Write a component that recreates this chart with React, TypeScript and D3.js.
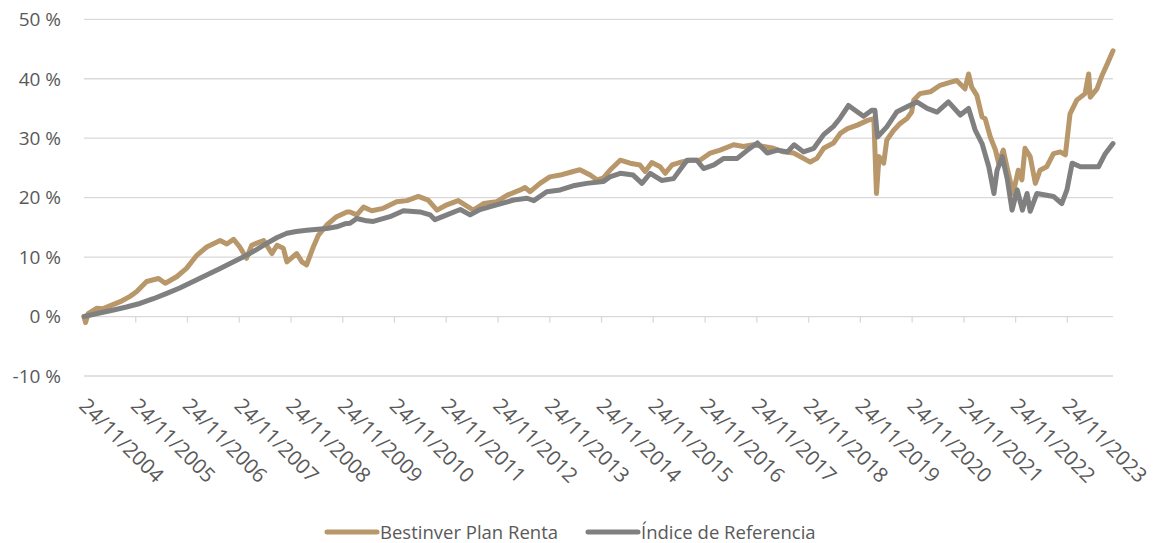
import { useEffect, useRef } from "react"
import * as d3 from "d3"

// Years elapsed since 24/11/2004 and cumulative return (%)
const fundYears = [
  0, 0.03, 0.08, 0.25, 0.36, 0.5, 0.7, 0.89, 1.02, 1.21, 1.44, 1.57, 1.79, 1.98, 2.18, 2.37, 2.63, 2.76, 2.89,
  3.01, 3.14, 3.24, 3.47, 3.63, 3.73, 3.85, 3.92, 4.11, 4.21, 4.3, 4.43, 4.53, 4.69, 4.88, 5.08, 5.14, 5.27, 5.4,
  5.56, 5.78, 6.04, 6.24, 6.46, 6.65, 6.82, 7.01, 7.23, 7.36, 7.52, 7.72, 7.97, 8.17, 8.43, 8.52, 8.62, 8.81, 9.0,
  9.2, 9.45, 9.58, 9.78, 9.91, 10.03, 10.16, 10.36, 10.55, 10.74, 10.84, 10.97, 11.13, 11.23, 11.36, 11.55, 11.71,
  11.9, 12.1, 12.29, 12.55, 12.74, 12.93, 13.13, 13.32, 13.51, 13.71, 13.9, 14.03, 14.16, 14.29, 14.48, 14.61,
  14.75, 14.94, 15.14, 15.26, 15.31, 15.36, 15.45, 15.51, 15.64, 15.77, 15.9, 15.99, 16.03, 16.15, 16.35, 16.54,
  16.73, 16.86, 17.02, 17.09, 17.15, 17.25, 17.35, 17.41, 17.51, 17.61, 17.67, 17.76, 17.83, 17.95, 18.05, 18.12,
  18.18, 18.28, 18.38, 18.47, 18.6, 18.73, 18.86, 18.96, 19.05, 19.18, 19.34, 19.41, 19.44, 19.57, 19.67, 19.77,
  19.88,
]
const fundValues = [
  0, -1.0, 0.5, 1.4, 1.3, 1.8, 2.5, 3.4, 4.2, 5.9, 6.4, 5.6, 6.7, 8.1, 10.3, 11.7, 12.8, 12.2, 13.0,
  11.7, 9.8, 12.0, 12.8, 10.6, 12.0, 11.5, 9.2, 10.6, 9.2, 8.7, 11.7, 13.7, 15.4, 16.8, 17.6, 17.6, 17.1, 18.4,
  17.8, 18.2, 19.3, 19.5, 20.2, 19.6, 17.9, 18.8, 19.5, 18.8, 17.9, 19.0, 19.3, 20.4, 21.3, 21.7, 21.0, 22.4, 23.5,
  23.8, 24.4, 24.7, 23.8, 23.0, 23.3, 24.6, 26.3, 25.8, 25.5, 24.4, 25.9, 25.2, 24.1, 25.5, 26.0, 26.3,
  26.3, 27.5, 28.0, 28.9, 28.6, 28.9, 28.6, 28.3, 27.7, 27.5, 26.6, 26.0, 26.6, 28.3, 29.2, 30.8,
  31.6, 32.2, 33.0, 33.3, 20.7, 26.9, 25.8, 29.7, 31.3, 32.5, 33.3, 34.4, 36.4, 37.5, 37.8, 38.9,
  39.4, 39.7, 38.3, 40.8, 38.6, 37.2, 33.6, 33.3, 30.2, 28.0, 25.8, 28.0, 25.2, 20.7, 24.6, 23.0,
  28.3, 26.9, 22.4, 24.6, 25.2, 27.4, 27.7, 27.2, 34.1, 36.4, 37.5, 40.8, 36.9, 38.3, 40.6, 42.5,
  44.7,
]

const indexYears = [
  0, 0.3, 0.57, 0.82, 1.08, 1.34, 1.6, 1.85, 2.11, 2.37, 2.63, 2.89, 3.14, 3.34, 3.53, 3.73, 3.92, 4.1, 4.3, 4.69,
  4.88, 5.04, 5.14, 5.27, 5.46, 5.59, 5.91, 6.17, 6.49, 6.69, 6.78, 7.01, 7.27, 7.46, 7.65, 7.97, 8.3, 8.56, 8.69,
  8.94, 9.2, 9.45, 9.71, 10.03, 10.16, 10.36, 10.61, 10.78, 10.94, 11.16, 11.39, 11.65, 11.84, 11.97, 12.17,
  12.36, 12.62, 12.82, 13.01, 13.2, 13.4, 13.59, 13.72, 13.9, 14.1, 14.29, 14.48, 14.61, 14.77, 14.93, 15.06,
  15.22, 15.28, 15.33, 15.51, 15.7, 15.9, 16.09, 16.29, 16.48, 16.7, 16.93, 17.09, 17.22, 17.35, 17.48, 17.58,
  17.64, 17.74, 17.84, 17.93, 18.03, 18.13, 18.22, 18.28, 18.41, 18.6, 18.73, 18.89, 18.99, 19.09, 19.25,
  19.44, 19.6, 19.73, 19.88,
]
const indexValues = [
  0, 0.6, 1.1, 1.6, 2.2, 3.0, 3.9, 4.8, 5.9, 7.0, 8.1, 9.2, 10.3, 11.3, 12.3, 13.3, 14.0, 14.3, 14.5, 14.8,
  15.1, 15.6, 15.7, 16.5, 16.1, 16.0, 16.8, 17.8, 17.6, 17.1, 16.3, 17.1, 18.0, 17.1, 18.0, 18.8, 19.6, 19.9, 19.5,
  21.0, 21.3, 22.0, 22.4, 22.7, 23.5, 24.1, 23.8, 22.4, 24.1, 22.9, 23.2, 26.3, 26.3, 24.9, 25.5,
  26.6, 26.6, 28.0, 29.2, 27.5, 28.0, 27.7, 28.9, 27.7, 28.3, 30.6, 32.0, 33.4, 35.5, 34.5, 33.7,
  34.7, 34.7, 30.2, 31.9, 34.4, 35.3, 36.1, 35.0, 34.4, 36.1, 33.9, 35.0, 31.3, 29.1, 25.2, 20.7,
  24.6, 26.9, 23.0, 17.9, 21.3, 17.9, 20.7, 17.7, 20.7, 20.4, 20.2, 19.0, 21.3, 25.8, 25.2,
  25.2, 25.2, 27.4, 29.1,
]

const tickLabels = [
  "24/11/2004", "24/11/2005", "24/11/2006", "24/11/2007", "24/11/2008", "24/11/2009", "24/11/2010",
  "24/11/2011", "24/11/2012", "24/11/2013", "24/11/2014", "24/11/2015", "24/11/2016", "24/11/2017",
  "24/11/2018", "24/11/2019", "24/11/2020", "24/11/2021", "24/11/2022", "24/11/2023",
]
const yTicks = [-10, 0, 10, 20, 30, 40, 50]

const seriesNames = ["Bestinver Plan Renta", "Índice de Referencia"]
const seriesColors = ["#b8976a", "#808080"]

const parseLabel = d3.timeParse("%d/%m/%Y")
const startDate = parseLabel("24/11/2004") as Date
const toDate = (yrs: number) => new Date(startDate.getTime() + yrs * 365.25 * 864e5)

export default function App() {
  const svgRef = useRef<SVGSVGElement>(null)

  useEffect(() => {
    if (!svgRef.current) return
    const svg = d3.select(svgRef.current)
    svg.selectAll("*").remove()

    const width = 1158
    const height = 543
    svg.attr("width", width).attr("height", height)

    const font = "'Open Sans', sans-serif"
    const textColor = "#595959"

    const x = d3
      .scaleTime()
      .domain([startDate, toDate(fundYears[fundYears.length - 1])])
      .range([84, 1113])
    const y = d3.scaleLinear().domain([-10, 50]).range([376, 19.3])

    // gridlines
    svg
      .append("g")
      .selectAll("line")
      .data(yTicks)
      .enter()
      .append("line")
      .attr("x1", 84)
      .attr("x2", 1113)
      .attr("y1", (d) => y(d))
      .attr("y2", (d) => y(d))
      .attr("stroke", "#d9d9d9")
      .attr("stroke-width", 1.3)

    // y labels
    svg
      .append("g")
      .selectAll("text")
      .data(yTicks)
      .enter()
      .append("text")
      .attr("x", 61)
      .attr("y", (d) => y(d))
      .attr("dy", "0.36em")
      .attr("text-anchor", "end")
      .style("font-family", font)
      .style("font-size", "19px")
      .style("fill", textColor)
      .text((d) => `${d} %`)

    // x ticks on the 0 % line + rotated labels
    const tickDates = tickLabels.map((l) => parseLabel(l) as Date)
    svg
      .append("g")
      .selectAll("line")
      .data(tickDates)
      .enter()
      .append("line")
      .attr("x1", (d) => x(d))
      .attr("x2", (d) => x(d))
      .attr("y1", y(0))
      .attr("y2", y(0) + 6)
      .attr("stroke", "#d9d9d9")
      .attr("stroke-width", 1.3)

    svg
      .append("g")
      .selectAll("text")
      .data(tickDates)
      .enter()
      .append("text")
      .attr("transform", (d) => `translate(${x(d) - 6},${407}) rotate(45)`)
      .attr("text-anchor", "start")
      .style("font-family", font)
      .style("font-size", "20.5px")
      .style("fill", textColor)
      .text((d, i) => tickLabels[i])

    // series
    const series = [
      fundYears.map((t, i) => ({ date: toDate(t), value: fundValues[i] })),
      indexYears.map((t, i) => ({ date: toDate(t), value: indexValues[i] })),
    ]
    const line = d3
      .line<{ date: Date; value: number }>()
      .x((d) => x(d.date))
      .y((d) => y(d.value))

    series.forEach((s, i) => {
      svg
        .append("path")
        .datum(s)
        .attr("d", line)
        .attr("fill", "none")
        .attr("stroke", seriesColors[i])
        .attr("stroke-width", 5)
        .attr("stroke-linejoin", "round")
        .attr("stroke-linecap", "round")
    })

    // legend
    const legendX = [327, 588]
    const legend = svg
      .append("g")
      .selectAll("g")
      .data(seriesNames)
      .enter()
      .append("g")
      .attr("transform", (d, i) => `translate(${legendX[i]},532)`)

    legend
      .append("line")
      .attr("x1", 0)
      .attr("x2", 50)
      .attr("stroke", (d, i) => seriesColors[i])
      .attr("stroke-width", 5)
      .attr("stroke-linecap", "round")

    legend
      .append("text")
      .attr("x", 53)
      .attr("dy", "0.36em")
      .style("font-family", font)
      .style("font-size", "18.5px")
      .style("fill", textColor)
      .text((d) => d)
  }, [])

  return <svg ref={svgRef} style={{ position: "absolute", left: 0, top: 0 }}></svg>
}
